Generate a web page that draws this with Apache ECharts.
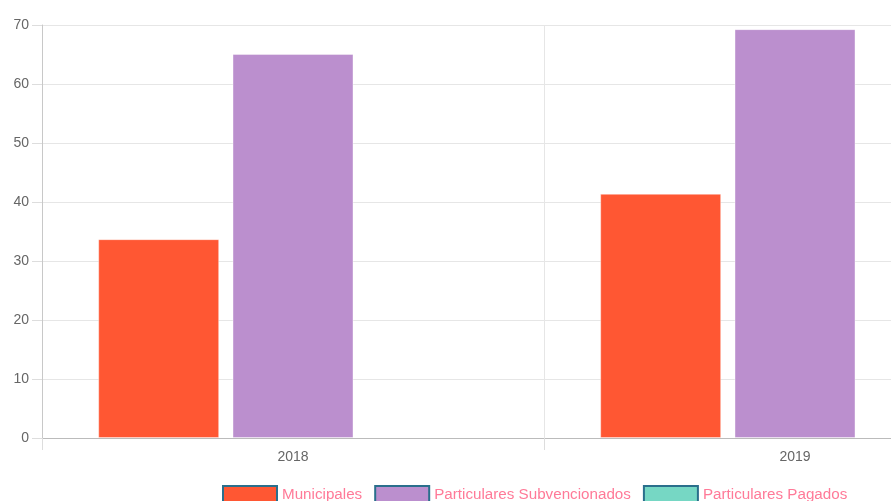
<!DOCTYPE html>
<html>
<head>
<meta charset="utf-8">
<script src="https://cdn.jsdelivr.net/npm/echarts@6/dist/echarts.min.js"></script>
<style>
  html, body { margin: 0; padding: 0; background: #fff; overflow: hidden; }
  #chart { width: 1064px; height: 501px; }
</style>
</head>
<body>
<div id="chart"></div>
<script>
// the original canvas is wider than the window, so the right side is cut off
const years = ['2018', '2019'];
const municipales = [33.7, 41.4];
const subvencionados = [65.1, 69.3];
const pagados = [null, null];
const seriesNames = ['Municipales', 'Particulares Subvencionados', 'Particulares Pagados'];
const seriesColors = ['#FF5733', '#BB8FCE', '#76D7C4'];

const myChart = echarts.init(document.getElementById('chart'));

const values = [municipales, subvencionados, pagados];
const series = seriesNames.map(function (name, i) {
  return {
    name: name,
    type: 'bar',
    data: values[i],
    barWidth: 121,
    barGap: '11%',
    itemStyle: { color: seriesColors[i], borderColor: 'rgba(255,255,255,0.4)', borderWidth: 1 },
    emphasis: { disabled: true }
  };
});

const option = {
  animation: false,
  textStyle: { fontFamily: 'Arial, "Liberation Sans", sans-serif' },
  grid: { left: 42, right: 18, top: 25, bottom: 63 },
  legend: {
    left: 217,
    top: 480,
    itemWidth: 54,
    itemHeight: 18,
    itemGap: 12,
    icon: 'rect',
    data: seriesNames,
    itemStyle: { borderColor: '#2a6f8c', borderWidth: 2 },
    textStyle: { color: '#ff7a98', fontSize: 15.2 }
  },
  xAxis: {
    type: 'category',
    data: years,
    boundaryGap: true,
    axisLine: { lineStyle: { color: '#bbbbbb' } },
    axisTick: { show: true, length: 12, lineStyle: { color: '#dddddd' } },
    splitLine: { show: true, lineStyle: { color: '#e6e6e6' } },
    axisLabel: { color: '#666', fontSize: 14, margin: 12 }
  },
  yAxis: {
    type: 'value',
    min: 0,
    max: 70,
    interval: 10,
    axisLine: { show: true, lineStyle: { color: '#c8c8c8' } },
    axisTick: { show: true, length: 10, lineStyle: { color: '#dddddd' } },
    splitLine: { lineStyle: { color: '#e6e6e6' } },
    axisLabel: { color: '#666', fontSize: 14, margin: 13 }
  },
  series: series
};

myChart.setOption(option);
</script>
</body>
</html>
